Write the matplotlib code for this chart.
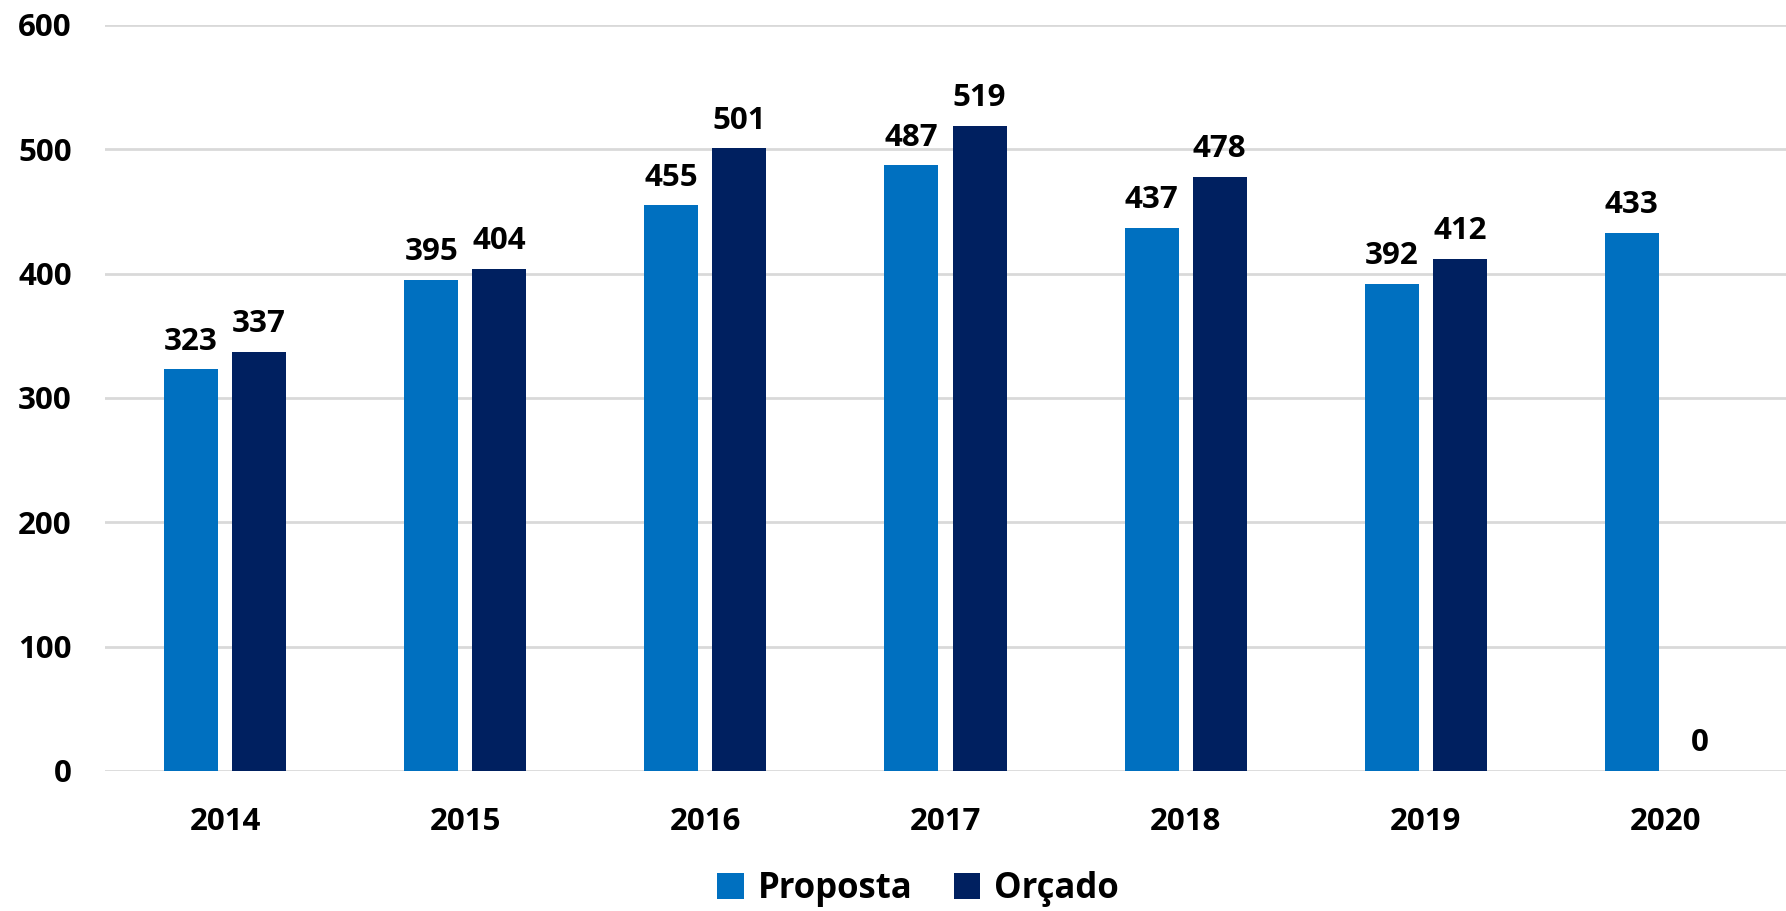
import numpy as np
import matplotlib.pyplot as plt

# dados
anos = ['2014', '2015', '2016', '2017', '2018', '2019', '2020']
proposta = [323, 395, 455, 487, 437, 392, 433]
orcado = [337, 404, 501, 519, 478, 412, 0]

cor_proposta = '#0070C0'
cor_orcado = '#002060'

plt.rcParams['font.family'] = ['Open Sans', 'DejaVu Sans']
plt.rcParams['font.weight'] = 'bold'

fig = plt.figure(figsize=(17.86, 9.11), dpi=100)
ax = fig.add_axes([0.0588, 0.1537, 0.9412, 0.8189])

x = np.arange(len(anos))
w = 0.225
off = 0.142
b1 = ax.bar(x - off, proposta, w, color=cor_proposta, label='Proposta', zorder=3)
b2 = ax.bar(x + off, orcado, w, color=cor_orcado, label='Orçado', zorder=3)

for bars, vals in [(b1, proposta), (b2, orcado)]:
    for rect, v in zip(bars, vals):
        ax.annotate(str(v), (rect.get_x() + rect.get_width() / 2, v),
                    xytext=(0, 9), textcoords='offset points',
                    ha='center', va='bottom', fontsize=22.5, fontweight='bold')

ax.set_xlim(-0.5, 6.5)
ax.set_ylim(0, 600)
ax.set_yticks(range(0, 601, 100))
ax.set_xticks(x)
ax.set_xticklabels(anos)
ax.tick_params(axis='both', length=0, labelsize=22.5)
ax.tick_params(axis='y', pad=24)
ax.tick_params(axis='x', pad=26)
for t in ax.get_xticklabels() + ax.get_yticklabels():
    t.set_fontweight('bold')

ax.grid(axis='y', color='#D9D9D9', linewidth=2, zorder=0)
for s in ax.spines.values():
    s.set_visible(False)

fig.legend(loc='center', bbox_to_anchor=(0.514, 0.024), ncol=2, frameon=False,
           handlelength=0.75, handleheight=0.75, handletextpad=0.4,
           columnspacing=1.2, prop={'weight': 'bold', 'size': 25})

plt.savefig('out.png', dpi=100)
